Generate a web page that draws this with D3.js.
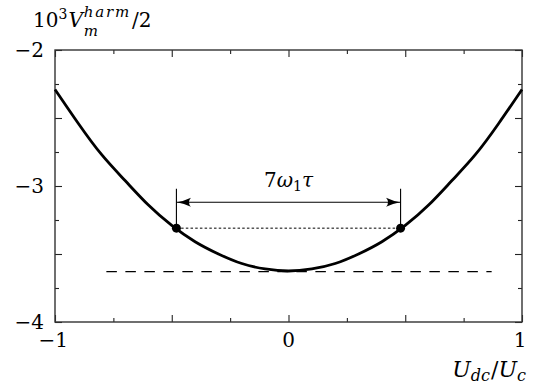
<!DOCTYPE html>
<html>
<head>
<meta charset="utf-8">
<script src="https://cdn.jsdelivr.net/npm/d3@7"></script>
<style>
  body { margin: 0; background: #fff; }
  text { font-family: "DejaVu Serif", serif; fill: #000; }
</style>
</head>
<body>
<script>
// values (x = Udc/Uc, y = 10^3 Vm^harm / 2)
let curveX = [-1, -0.9, -0.8, -0.7, -0.6, -0.5, -0.4, -0.3, -0.2, -0.1, 0,
  0.1, 0.2, 0.3, 0.4, 0.5, 0.6, 0.7, 0.8, 0.9, 1];
let curveY = [-2.29, -2.54, -2.77, -2.96, -3.14, -3.29, -3.41, -3.50, -3.57, -3.61, -3.625,
  -3.61, -3.57, -3.50, -3.41, -3.29, -3.14, -2.96, -2.77, -2.54, -2.29];
let markX = [-0.48, 0.48];
let markY = [-3.31, -3.31];
let dashX = [-0.78, 0.87];
let dashY = -3.63;
let xTickLabels = [-1, 0, 1];
let yTickLabels = [-4, -3, -2];
let guideTop = -3.02, arrowY = -3.12, spanLabelY = -3.01;

let width = 536, height = 385,
  marginLeft = 55, marginRight = 14,
  marginTop = 50, marginBottom = 63;

let x = d3.scaleLinear().domain([-1, 1]).range([marginLeft, width - marginRight]);
let y = d3.scaleLinear().domain([-4, -2]).range([height - marginBottom, marginTop]);

let svg = d3.select("body").append("svg")
  .attr("width", width)
  .attr("height", height);

svg.append("rect").attr("width", width).attr("height", height).attr("fill", "#fff");

// ticks: long every 0.5, short at the quarters
let major = d3.range(-1, 1.001, 0.5);
let minor = d3.range(-0.75, 1, 0.5);
let yMajor = d3.range(-4, -1.999, 0.5);
let yMinor = d3.range(-3.75, -2, 0.5);

function tickAxis(axis, vals, len) {
  return axis.tickValues(vals).tickSizeInner(-len).tickSizeOuter(0).tickFormat("");
}
let axes = [
  [d3.axisBottom(x), major, 7, `translate(0,${y(-4)})`],
  [d3.axisBottom(x), minor, 4, `translate(0,${y(-4)})`],
  [d3.axisTop(x), major, 7, `translate(0,${y(-2)})`],
  [d3.axisTop(x), minor, 4, `translate(0,${y(-2)})`],
  [d3.axisLeft(y), yMajor, 7, `translate(${x(-1)},0)`],
  [d3.axisLeft(y), yMinor, 4, `translate(${x(-1)},0)`],
  [d3.axisRight(y), yMajor, 7, `translate(${x(1)},0)`],
  [d3.axisRight(y), yMinor, 4, `translate(${x(1)},0)`]
];
axes.forEach(([ax, vals, len, tr]) => {
  let g = svg.append("g").attr("transform", tr).call(tickAxis(ax, vals, len));
  g.select(".domain").remove();
  g.selectAll("line").attr("stroke", "#222").attr("stroke-width", 1.1);
});

// frame
svg.append("rect")
  .attr("x", x(-1)).attr("y", y(-2))
  .attr("width", x(1) - x(-1)).attr("height", y(-4) - y(-2))
  .attr("fill", "none").attr("stroke", "#333").attr("stroke-width", 1.4);

// tick labels
svg.selectAll(".xl").data(xTickLabels).enter().append("text")
  .attr("x", d => x(d) + (d === 1 ? -2 : 0))
  .attr("y", y(-4) + 25)
  .attr("text-anchor", d => d < 0 ? "end" : "middle")
  .attr("dx", d => d < 0 ? 13 : 0)
  .style("font-size", "20px")
  .text(d => d < 0 ? "\u2212" + Math.abs(d) : d);

svg.selectAll(".yl").data(yTickLabels).enter().append("text")
  .attr("x", x(-1) - 11)
  .attr("y", d => y(d) + 7)
  .attr("text-anchor", "end")
  .style("font-size", "20px")
  .text(d => "\u2212" + Math.abs(d));

// dashed reference level
svg.append("line")
  .attr("x1", x(dashX[0])).attr("x2", x(dashX[1]))
  .attr("y1", y(dashY)).attr("y2", y(dashY))
  .attr("stroke", "#000").attr("stroke-width", 1.2)
  .attr("stroke-dasharray", "10.5,8.5");

// dotted chord between the marked points
svg.append("line")
  .attr("x1", x(markX[0])).attr("x2", x(markX[1]))
  .attr("y1", y(markY[0])).attr("y2", y(markY[1]))
  .attr("stroke", "#000").attr("stroke-width", 1)
  .attr("stroke-dasharray", "2.5,2.2");

// main curve
let line = d3.line().x(d => x(d[0])).y(d => y(d[1])).curve(d3.curveNatural);
svg.append("path")
  .datum(d3.zip(curveX, curveY))
  .attr("d", line)
  .attr("fill", "none").attr("stroke", "#000").attr("stroke-width", 2.8);

// guides + double arrow
markX.forEach((mx, i) => {
  svg.append("line")
    .attr("x1", x(mx)).attr("x2", x(mx))
    .attr("y1", y(markY[i])).attr("y2", y(guideTop))
    .attr("stroke", "#000").attr("stroke-width", 1.1);
});
svg.append("line")
  .attr("x1", x(markX[0])).attr("x2", x(markX[1]))
  .attr("y1", y(arrowY)).attr("y2", y(arrowY))
  .attr("stroke", "#000").attr("stroke-width", 1.1);
let head = "M0,0 Q7,-1.2 14,-4.5 Q10,0 14,4.5 Q7,1.2 0,0 Z";
svg.append("path").attr("d", head)
  .attr("transform", `translate(${x(markX[0]) + 0.5},${y(arrowY)})`).attr("fill", "#000");
svg.append("path").attr("d", head)
  .attr("transform", `translate(${x(markX[1]) - 0.5},${y(arrowY)}) scale(-1,1)`).attr("fill", "#000");

// markers
svg.selectAll(".dot").data(d3.zip(markX, markY)).enter().append("circle")
  .attr("cx", d => x(d[0])).attr("cy", d => y(d[1]))
  .attr("r", 4.5).attr("fill", "#000");

// span label 7ω1τ
let span = svg.append("text")
  .attr("x", x(0)).attr("y", y(spanLabelY))
  .attr("text-anchor", "middle")
  .style("font-size", "20px");
span.append("tspan").text("7");
span.append("tspan").style("font-style", "italic").text("\u03c9");
span.append("tspan").attr("dy", 4).style("font-size", "14px").text("1");
span.append("tspan").attr("dy", -4).style("font-style", "italic").text("\u03c4");

// y title: 10^3 V_m^harm / 2, sub and sup stacked in one text element
let yt = svg.append("text").attr("x", 33).attr("y", 27).style("font-size", "20px");
yt.append("tspan").text("10");
yt.append("tspan").attr("dy", -8).style("font-size", "14px").text("3");
yt.append("tspan").attr("dy", 8).attr("dx", 1).style("font-style", "italic").text("V");
let vEnd = 33 + yt.node().getComputedTextLength() + 2;
yt.append("tspan").attr("x", vEnd).attr("y", 36)
  .style("font-size", "15px").style("font-style", "italic").text("m");
let sup = yt.append("tspan").attr("x", vEnd).attr("y", 17).style("font-size", "15px")
  .style("font-style", "italic").style("letter-spacing", "1.8px").text("harm");
let supEnd = vEnd + sup.node().getComputedTextLength();
yt.append("tspan").attr("x", supEnd + 1).attr("y", 27).text("/2");

let xt = svg.append("text").attr("x", 526).attr("y", 377)
  .attr("text-anchor", "end").style("font-size", "22px");
xt.append("tspan").style("font-style", "italic").text("U");
xt.append("tspan").attr("dy", 4).style("font-size", "16px").style("font-style", "italic").text("dc");
xt.append("tspan").attr("dy", -4).attr("dx", 1).text("/");
xt.append("tspan").style("font-style", "italic").text("U");
xt.append("tspan").attr("dy", 4).style("font-size", "16px").style("font-style", "italic").text("c");
</script>
</body>
</html>
